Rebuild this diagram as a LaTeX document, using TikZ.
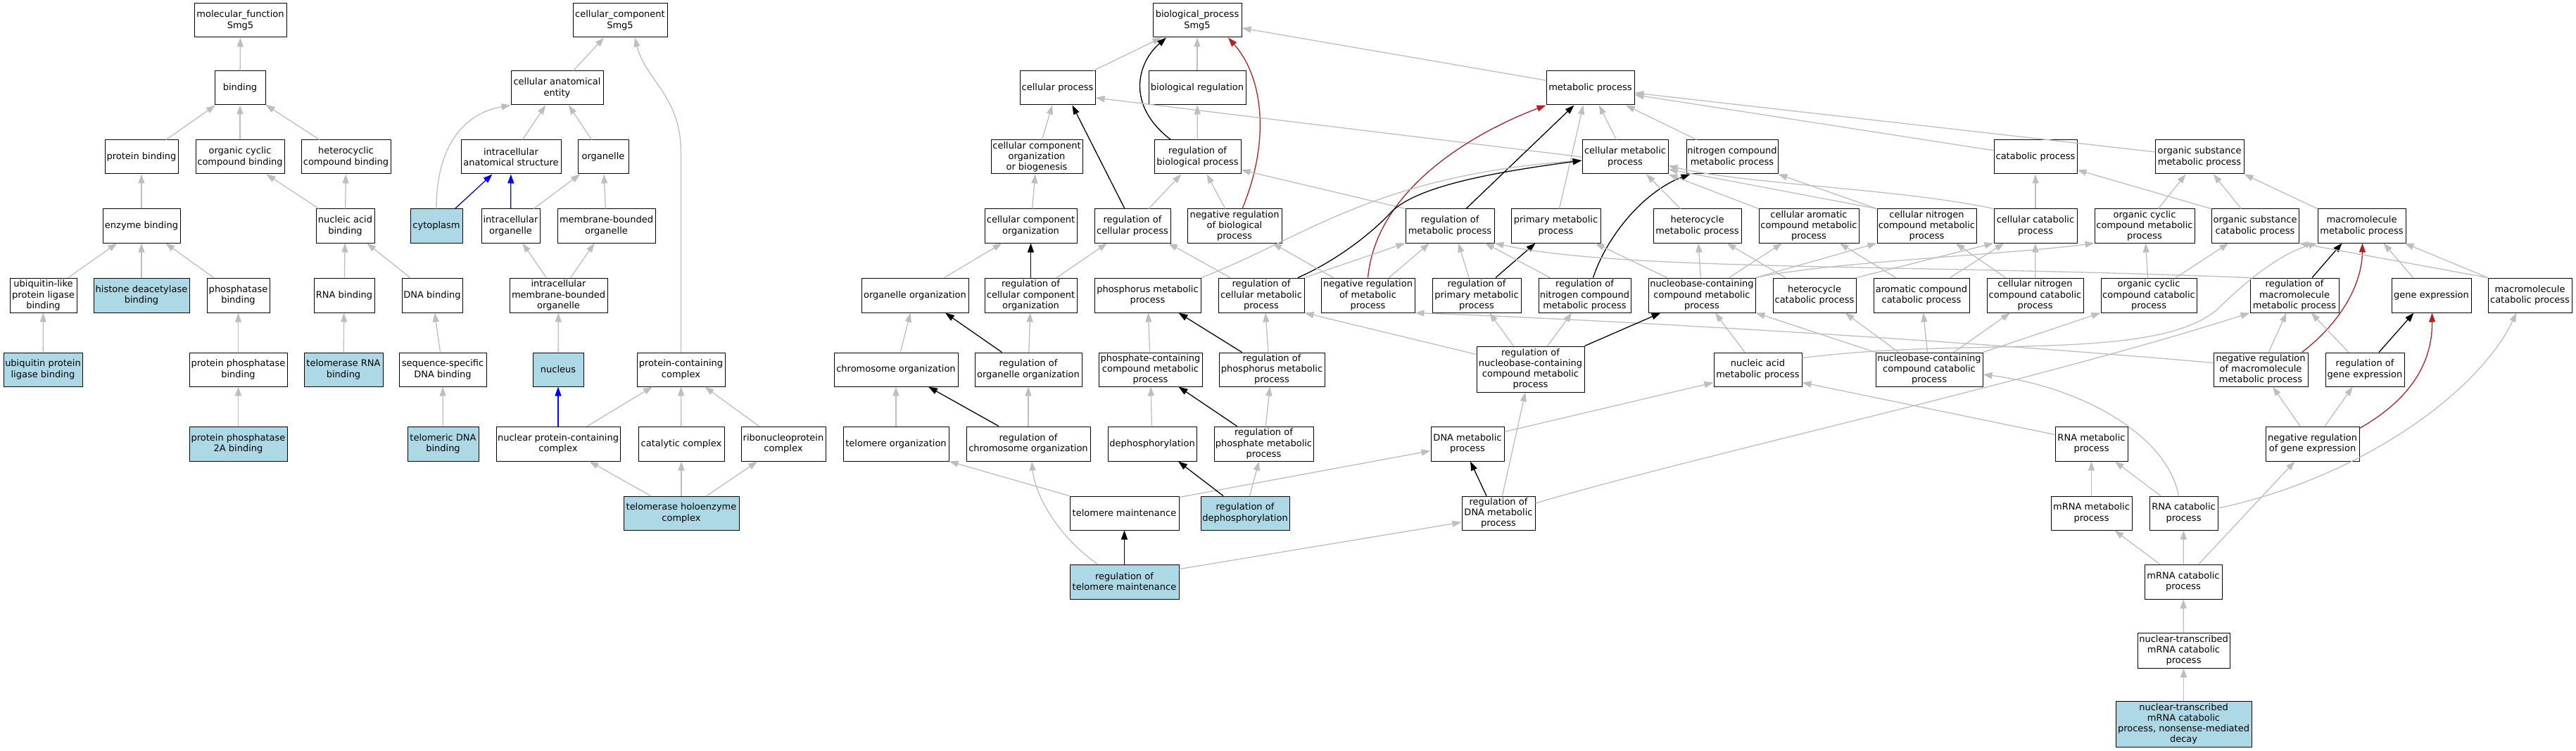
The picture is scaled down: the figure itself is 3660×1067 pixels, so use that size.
\documentclass[tikz,border=0pt]{standalone}
\usepackage{fontspec}
\setmainfont{DejaVu Sans}
\usetikzlibrary{arrows.meta,calc}
\definecolor{egray}{RGB}{190,190,190}
\definecolor{ered}{RGB}{178,34,34}
\definecolor{hlblue}{RGB}{173,216,230}
\newcommand\gonode[7][]{%
  \pgfmathsetmacro\gow{#4-#3}%
  \pgfmathsetmacro\goh{#6-#5}%
  \pgfmathsetmacro\gox{(#3+#4)/2}%
  \pgfmathsetmacro\goy{(#5+#6)/2}%
  \node[gobox,#1,minimum width=\gow pt,minimum height=\goh pt] (#2) at (\gox,\goy) {#7};}
\begin{document}
\begin{tikzpicture}[x=1pt,y=-1pt,
  gobox/.style={draw=black,line width=1pt,fill=white,inner sep=1pt,align=center,
    font=\fontsize{13}{15.2}\selectfont},
  hl/.style={fill=hlblue},
  tipk/.style={-{Triangle[length=13pt,width=9pt]}},
  isa/.style={tipk,color=egray,line width=1.3pt},
  regl/.style={tipk,color=black,line width=1.3pt},
  nregl/.style={tipk,color=ered,line width=1.3pt},
  partof/.style={tipk,color=blue,line width=1.3pt}]
\fill[white] (0,0) rectangle (3660,1067);
\useasboundingbox (0,0) rectangle (3660,1067);
% ---------------- molecular function
\gonode{mf}{276}{407}{5}{53}{molecular\_function\\Smg5}
\gonode{binding}{305}{377}{101}{149}{binding}
\gonode{protbind}{149}{253}{199}{247}{protein binding}
\gonode{ocbind}{278}{404}{199}{247}{organic cyclic\\compound binding}
\gonode{hetbind}{428}{555}{199}{247}{heterocyclic\\compound binding}
\gonode{enzbind}{146}{256}{297}{345}{enzyme binding}
\gonode{nabind}{449}{532}{297}{345}{nucleic acid\\binding}
\gonode{ublbind}{14}{109}{395}{444}{ubiquitin-like\\protein ligase\\binding}
\gonode[hl]{hdacbind}{133}{269}{395}{444}{histone deacetylase\\binding}
\gonode{phosbind}{294}{383}{395}{444}{phosphatase\\binding}
\gonode{rnabind}{446}{532}{395}{444}{RNA binding}
\gonode{dnabind}{571}{657}{395}{444}{DNA binding}
\gonode[hl]{ubpbind}{5}{117}{501}{549}{ubiquitin protein\\ligase binding}
\gonode{ppbind}{269}{408}{501}{549}{protein phosphatase\\binding}
\gonode[hl]{telrnabind}{432}{544}{501}{549}{telomerase RNA\\binding}
\gonode{ssdnabind}{567}{691}{501}{549}{sequence-specific\\DNA binding}
\gonode[hl]{pp2abind}{269}{408}{606}{655}{protein phosphatase\\2A binding}
\gonode[hl]{teldnabind}{579}{680}{606}{655}{telomeric DNA\\binding}
% ---------------- cellular component
\gonode{cc}{814}{948}{5}{53}{cellular\_component\\Smg5}
\gonode{cae}{726}{857}{101}{149}{cellular anatomical\\entity}
\gonode{ias}{655}{797}{199}{247}{intracellular\\anatomical structure}
\gonode{organelle}{821}{893}{199}{247}{organelle}
\gonode[hl]{cyto}{583}{657}{297}{345}{cytoplasm}
\gonode{io}{684}{767}{297}{345}{intracellular\\organelle}
\gonode{mbo}{792}{931}{297}{345}{membrane-bounded\\organelle}
\gonode{imbo}{724}{863}{395}{444}{intracellular\\membrane-bounded\\organelle}
\gonode[hl]{nucleus}{757}{829}{501}{549}{nucleus}
\gonode{pcc}{905}{1030}{501}{549}{protein-containing\\complex}
\gonode{npcc}{705}{881}{606}{655}{nuclear protein-containing\\complex}
\gonode{catc}{907}{1029}{606}{655}{catalytic complex}
\gonode{rnpc}{1053}{1173}{606}{655}{ribonucleoprotein\\complex}
\gonode[hl]{thc}{886}{1050}{705}{753}{telomerase holoenzyme\\complex}
% ---------------- biological process
\gonode{bp}{1638}{1764}{5}{53}{biological\_process\\Smg5}
\gonode{cp}{1449}{1556}{101}{149}{cellular process}
\gonode{breg}{1632}{1770}{101}{149}{biological regulation}
\gonode{mp}{2197}{2322}{101}{149}{metabolic process}
\gonode{ccob}{1408}{1538}{199}{247}{cellular component\\organization\\or biogenesis}
\gonode{rbp}{1640}{1763}{199}{247}{regulation of\\biological process}
\gonode{cmp}{2248}{2370}{199}{247}{cellular metabolic\\process}
\gonode{ncmp}{2396}{2526}{199}{247}{nitrogen compound\\metabolic process}
\gonode{catp}{2833}{2951}{199}{247}{catabolic process}
\gonode{osmp}{3062}{3188}{199}{247}{organic substance\\metabolic process}
\gonode{cco}{1399}{1530}{297}{345}{cellular component\\organization}
\gonode{rcp}{1555}{1663}{297}{345}{regulation of\\cellular process}
\gonode{nrbp}{1687}{1821}{297}{345}{negative regulation\\of biological\\process}
\gonode{rmp}{1997}{2123}{297}{345}{regulation of\\metabolic process}
\gonode{pmp}{2147}{2274}{297}{345}{primary metabolic\\process}
\gonode{hmp}{2349}{2474}{297}{345}{heterocycle\\metabolic process}
\gonode{camp}{2499}{2641}{297}{345}{cellular aromatic\\compound metabolic\\process}
\gonode{cncmp}{2667}{2808}{297}{345}{cellular nitrogen\\compound metabolic\\process}
\gonode{ccatp}{2833}{2951}{297}{345}{cellular catabolic\\process}
\gonode{occmp}{2976}{3118}{297}{345}{organic cyclic\\compound metabolic\\process}
\gonode{oscp}{3142}{3266}{297}{345}{organic substance\\catabolic process}
\gonode{mmp}{3293}{3418}{297}{345}{macromolecule\\metabolic process}
\gonode{oo}{1224}{1376}{395}{444}{organelle organization}
\gonode{rcco}{1399}{1530}{395}{444}{regulation of\\cellular component\\organization}
\gonode{phmp}{1555}{1706}{395}{444}{phosphorus metabolic\\process}
\gonode{rcmp}{1731}{1853}{395}{444}{regulation of\\cellular metabolic\\process}
\gonode{nrmp}{1877}{2010}{395}{444}{negative regulation\\of metabolic\\process}
\gonode{rpmp}{2035}{2161}{395}{444}{regulation of\\primary metabolic\\process}
\gonode{rncmp}{2186}{2317}{395}{444}{regulation of\\nitrogen compound\\metabolic process}
\gonode{nbcmp}{2342}{2494}{395}{444}{nucleobase-containing\\compound metabolic\\process}
\gonode{hcp}{2519}{2637}{395}{444}{heterocycle\\catabolic process}
\gonode{acp}{2662}{2798}{395}{444}{aromatic compound\\catabolic process}
\gonode{cnccp}{2823}{2960}{395}{444}{cellular nitrogen\\compound catabolic\\process}
\gonode{occp}{2985}{3121}{395}{444}{organic cyclic\\compound catabolic\\process}
\gonode{rmmp}{3197}{3323}{395}{444}{regulation of\\macromolecule\\metabolic process}
\gonode{ge}{3398}{3511}{395}{444}{gene expression}
\gonode{mcp}{3535}{3654}{395}{444}{macromolecule\\catabolic process}
\gonode{chro}{1185}{1361}{501}{549}{chromosome organization}
\gonode{roo}{1385}{1537}{501}{549}{regulation of\\organelle organization}
\gonode{pccmp}{1561}{1708}{501}{549}{phosphate-containing\\compound metabolic\\process}
\gonode{rphmp}{1732}{1882}{501}{549}{regulation of\\phosphorus metabolic\\process}
\gonode{rnbcmp}{2098}{2251}{492}{557}{regulation of\\nucleobase-containing\\compound metabolic\\process}
\gonode{namp}{2435}{2560}{501}{549}{nucleic acid\\metabolic process}
\gonode{nbccp}{2665}{2817}{501}{549}{nucleobase-containing\\compound catabolic\\process}
\gonode{nrmmp}{3145}{3279}{501}{549}{negative regulation\\of macromolecule\\metabolic process}
\gonode{rge}{3304}{3416}{501}{549}{regulation of\\gene expression}
\gonode{telo}{1198}{1348}{606}{655}{telomere organization}
\gonode{rchro}{1373}{1549}{606}{655}{regulation of\\chromosome organization}
\gonode{dephos}{1574}{1700}{606}{655}{dephosphorylation}
\gonode{rphos}{1725}{1866}{606}{655}{regulation of\\phosphate metabolic\\process}
\gonode{dnamp}{2033}{2137}{606}{655}{DNA metabolic\\process}
\gonode{rnamp}{2920}{3023}{606}{655}{RNA metabolic\\process}
\gonode{nrge}{3219}{3352}{606}{655}{negative regulation\\of gene expression}
\gonode{telm}{1520}{1675}{705}{753}{telomere maintenance}
\gonode[hl]{rdephos}{1706}{1832}{705}{753}{regulation of\\dephosphorylation}
\gonode{rdnamp}{2077}{2181}{705}{753}{regulation of\\DNA metabolic\\process}
\gonode{mrnamp}{2914}{3029}{705}{753}{mRNA metabolic\\process}
\gonode{rnacp}{3054}{3151}{705}{753}{RNA catabolic\\process}
\gonode[hl]{rtelm}{1520}{1675}{802}{851}{regulation of\\telomere maintenance}
\gonode{mrnacp}{3047}{3157}{802}{851}{mRNA catabolic\\process}
\gonode{ntmcp}{3037}{3168}{899}{949}{nuclear-transcribed\\mRNA catabolic\\process}
\gonode[hl]{nmd}{3006}{3199}{996}{1061}{nuclear-transcribed\\mRNA catabolic\\process, nonsense-mediated\\decay}
% ================= edges: molecular function
\draw[isa] (binding) -- (mf);
\draw[isa] (protbind) -- (binding);
\draw[isa] (ocbind) -- (binding);
\draw[isa] (hetbind) -- (binding);
\draw[isa] (enzbind) -- (protbind);
\draw[isa] (nabind) -- (ocbind);
\draw[isa] (nabind) -- (hetbind);
\draw[isa] (ublbind) -- (enzbind);
\draw[isa] (hdacbind) -- (enzbind);
\draw[isa] (phosbind) -- (enzbind);
\draw[isa] (rnabind) -- (nabind);
\draw[isa] (dnabind) -- (nabind);
\draw[isa] (ubpbind) -- (ublbind);
\draw[isa] (ppbind) -- (phosbind);
\draw[isa] (telrnabind) -- (rnabind);
\draw[isa] (ssdnabind) -- (dnabind);
\draw[isa] (pp2abind) -- (ppbind);
\draw[isa] (teldnabind) -- (ssdnabind);
% ================= edges: cellular component
\draw[isa] (cae) -- (cc);
\draw[isa] (pcc.north) -- ++(0,-284) .. controls +(0,-80) and +(15,60) .. ($(cc.south)+(21,0)$);
\draw[isa] (ias) -- (cae);
\draw[isa] (organelle) -- (cae);
\draw[isa] (cyto.north) .. controls (620,200) and (665,160) .. (cae.south west);
\draw[partof] (cyto) -- (ias);
\draw[partof] (io) -- (ias);
\draw[isa] (io) -- (organelle);
\draw[isa] (mbo) -- (organelle);
\draw[isa] (imbo) -- (io);
\draw[isa] (imbo) -- (mbo);
\draw[isa] (nucleus) -- (imbo);
\draw[partof] (npcc) -- (nucleus);
\draw[isa] (npcc) -- (pcc);
\draw[isa] (catc) -- (pcc);
\draw[isa] (rnpc) -- (pcc);
\draw[isa] (thc) -- (npcc);
\draw[isa] (thc) -- (catc);
\draw[isa] (thc) -- (rnpc);
% ================= edges: biological process
\draw[isa] (cp) -- (bp);
\draw[isa] (breg) -- (bp);
\draw[isa] (mp) -- (bp);
\draw[regl] ($(rbp.north)+(-38,0)$) .. controls (1600,150) and (1615,90) .. ($(bp.south)+(-44,0)$);
\draw[nregl] ($(nrbp.north)+(11,0)$) .. controls (1805,200) and (1795,110) .. ($(bp.south)+(44,0)$);
\draw[isa] (rbp) -- (breg);
\draw[isa] (ccob) -- (cp);
\draw[isa] (cmp.west) -- ($(cp.east)+(0,14)$);
\draw[regl] ($(rcp.north)+(-11,0)$) -- ($(cp.south)+(21,0)$);
\draw[isa] (rcp) -- (rbp);
\draw[isa] (nrbp) -- (rbp);
\draw[isa] (rmp.north west) -- ($(rbp.south east)+(0,-6)$);
\draw[regl] ($(rmp.north)+(23,0)$) -- ($(mp.south)+(-23,0)$);
\draw[nregl] (nrmp.north) .. controls (1955,270) and (2090,190) .. (mp.south west);
\draw[isa] ($(pmp.north)+(5,0)$) -- ($(mp.south)+(-10,0)$);
\draw[isa] (cmp) -- (mp);
\draw[isa] (ncmp) -- (mp);
\draw[isa] (catp) -- (mp);
\draw[isa] (osmp) -- (mp);
\draw[isa] (cco) -- (ccob);
\draw[isa] (oo) -- (cco);
\draw[regl] (rcco) -- (cco);
\draw[isa] (rcco) -- (rcp);
\draw[isa] (phmp.north east) .. controls (1850,340) and (1950,250) .. ($(cmp.west)+(0,5)$);
\draw[regl] ($(rcmp.north)+(52,0)$) .. controls (1900,370) and (1950,330) .. (1975,303)
   .. controls (2010,265) and (2120,245) .. ($(cmp.west)+(0,5)$);
\draw[isa] ($(rcmp.north)+(-44,0)$) -- ($(rcp.south)+(51,0)$);
\draw[isa] (rcmp.north east) -- (rmp.south west);
\draw[isa] ($(nrmp.north west)+(18,0)$) -- ($(nrbp.south)+(54,0)$);
\draw[isa] ($(nrmp.north)+(30,0)$) -- ($(rmp.south)+(-29,0)$);
\draw[isa] ($(rpmp.north)+(-11,0)$) -- ($(rmp.south)+(12,0)$);
\draw[regl] ($(rpmp.north)+(27,0)$) -- ($(pmp.south)+(-29,0)$);
\draw[isa] ($(rncmp.north west)+(17,0)$) -- ($(rmp.south)+(50,0)$);
\draw[regl] ($(rncmp.north)+(12,0)$) .. controls (2285,330) and (2340,270) .. ($(ncmp.south west)+(6,0)$);
\draw[isa] (rmmp.north west) .. controls (2700,375) and (2300,385) .. (rmp.south east);
\draw[isa] ($(nrmmp.north west)+(0,15)$) .. controls (2800,485) and (2300,455) .. (nrmp.south east);
\draw[isa] ($(nbcmp.north west)+(27,0)$) -- ($(pmp.south east)+(-8,0)$);
\draw[isa] (nbcmp) -- (hmp);
\draw[isa] (nbcmp) -- (camp);
\draw[isa] (nbcmp.north east) -- (cncmp.south west);
\draw[isa] (nbcmp.north east) .. controls (2600,372) and (2850,362) .. (occmp.south west);
\draw[isa] ($(hcp.north west)+(18,0)$) -- ($(hmp.south east)+(-21,0)$);
\draw[isa] (hcp.north east) -- (ccatp.south west);
\draw[isa] ($(acp.north west)+(32,0)$) -- ($(camp.south east)+(-28,0)$);
\draw[isa] ($(acp.north east)+(-28,0)$) -- ($(ccatp.south west)+(15,0)$);
\draw[isa] ($(cnccp.north west)+(27,0)$) -- ($(cncmp.south east)+(-30,0)$);
\draw[isa] (cnccp) -- (ccatp);
\draw[isa] (ccatp) -- (catp);
\draw[isa] (ccatp.north west) .. controls (2700,268) and (2480,262) .. ($(cmp.south east)+(0,-12)$);
\draw[isa] (cncmp.north west) -- ($(cmp.south east)+(0,-7)$);
\draw[isa] (camp.north west) -- (cmp.south east);
\draw[isa] (cncmp.north west) -- (ncmp.south east);
\draw[isa] ($(hmp.north)+(-24,0)$) -- ($(cmp.south)+(30,0)$);
\draw[isa] (occmp) -- (osmp);
\draw[isa] (oscp) -- (osmp);
\draw[isa] (mmp.north west) -- (osmp.south east);
\draw[isa] (oscp.north west) -- ($(catp.south east)+(0,-6)$);
\draw[isa] (occp) -- (occmp);
\draw[isa] (occp) -- (oscp);
\draw[regl] ($(rmmp.north)+(25,0)$) -- ($(mmp.south)+(-28,0)$);
\draw[nregl] ($(nrmmp.north east)+(-9,0)$) .. controls (3330,455) and (3356,400) .. ($(mmp.south)+(1,0)$);
\draw[isa] ($(ge.north)+(-26,0)$) -- ($(mmp.south)+(31,0)$);
\draw[isa] (mcp.north west) -- ($(mmp.south east)+(-2,0)$);
\draw[isa] (mcp.north west) -- (oscp.south east);
\draw[isa] ($(namp.north east)+(0,8)$) .. controls (2800,478) and (3060,515) .. (3150,440)
   .. controls (3190,400) and (3240,360) .. (mmp.south west);
\draw[isa] ($(nbccp.north west)+(33,0)$) -- ($(hcp.south east)+(-16,0)$);
\draw[isa] (nbccp) -- (acp);
\draw[isa] (nbccp) -- (cnccp);
\draw[isa] (nbccp.north east) -- (occp.south west);
\draw[isa] (nbccp.north west) -- (nbcmp.south east);
\draw[isa] (namp) -- (nbcmp);
\draw[isa] (rnbcmp) -- (rpmp);
\draw[isa] (rnbcmp) -- (rncmp);
\draw[regl] (rnbcmp.north east) -- ($(nbcmp.south west)+(18,0)$);
\draw[isa] ($(rnbcmp.north west)+(0,12)$) -- (rcmp.south east);
\draw[isa] ($(rphmp.north)+(-5,0)$) -- ($(rcmp.south)+(6,0)$);
\draw[regl] ($(rphmp.north west)+(33,0)$) -- ($(phmp.south)+(44,0)$);
\draw[isa] (pccmp) -- (phmp);
\draw[regl] ($(roo.north west)+(39,0)$) -- ($(oo.south)+(43,0)$);
\draw[isa] (roo) -- (rcco);
\draw[isa] (chro) -- (oo);
\draw[isa] (telo) -- (chro);
\draw[regl] ($(rchro.north)+(-42,0)$) -- ($(chro.south)+(46,0)$);
\draw[isa] (rchro) -- (roo);
\draw[isa] (dephos) -- (pccmp);
\draw[regl] ($(rphos.north west)+(33,0)$) -- ($(pccmp.south)+(40,0)$);
\draw[isa] (rphos) -- (rphmp);
\draw[isa] ($(dnamp.north east)+(0,8)$) -- ($(namp.south west)+(0,-6)$);
\draw[isa] ($(rnamp.north west)+(0,12)$) -- ($(namp.south east)+(0,-6)$);
\draw[regl] ($(rdnamp.north)+(-17,0)$) -- ($(dnamp.south)+(4,0)$);
\draw[isa] (rdnamp) -- (rnbcmp);
\draw[isa] ($(rdnamp.east)+(0,-14)$) .. controls (2400,650) and (2900,540) .. (rmmp.south west);
\draw[isa] (telm.north west) -- (telo.south east);
\draw[isa] ($(telm.north east)+(0,2)$) -- ($(dnamp.west)+(0,10)$);
\draw[regl] (rtelm) -- (telm);
\draw[isa] ($(rtelm.north west)+(40,0)$) .. controls (1500,760) and (1470,700) .. ($(rchro.south)+(5,0)$);
\draw[isa] ($(rtelm.north east)+(0,7)$) -- ($(rdnamp.west)+(0,13)$);
\draw[regl] ($(rdephos.north)+(-31,0)$) -- ($(dephos.south)+(37,0)$);
\draw[isa] (rdephos) -- (rphos);
\draw[isa] (mrnamp) -- (rnamp);
\draw[isa] (rnacp) -- (rnamp);
\draw[isa] ($(rnacp.north)+(-7,0)$) .. controls (3080,620) and (2960,550) .. ($(nbccp.east)+(0,7)$);
\draw[isa] ($(rnacp.east)+(0,-7)$) .. controls (3350,680) and (3520,560) .. ($(mcp.south)+(-19,0)$);
\draw[isa] (mrnacp) -- (mrnamp);
\draw[isa] (mrnacp) -- (rnacp);
\draw[isa] ($(mrnacp.north)+(22,0)$) -- ($(nrge.south)+(-25,0)$);
\draw[isa] (ntmcp) -- (mrnacp);
\draw[isa] (nmd) -- (ntmcp);
\draw[isa] (nrge) -- (nrmmp);
\draw[isa] (nrge) -- (rge);
\draw[nregl] ($(nrge.north east)+(0,3)$) .. controls (3420,570) and (3456,520) .. ($(ge.south)+(1,0)$);
\draw[regl] ($(rge.north)+(20,0)$) -- ($(ge.south)+(-25,0)$);
\draw[isa] (rge) -- (rmmp);
\draw[isa] (nrmmp) -- (rmmp);
\end{tikzpicture}
\end{document}
